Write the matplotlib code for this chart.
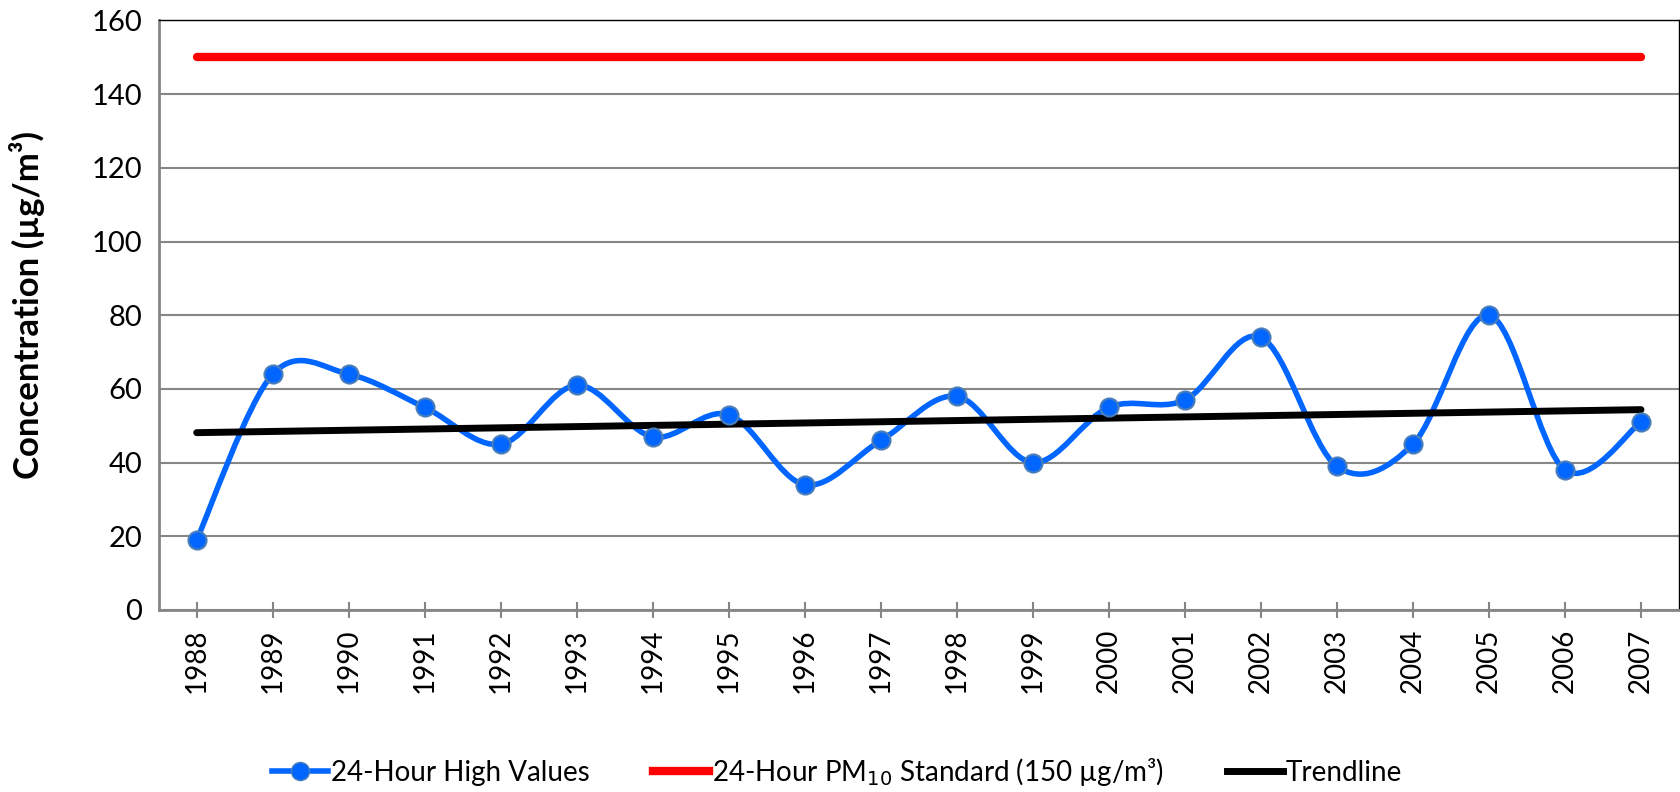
import numpy as np
import matplotlib
matplotlib.use("Agg")
import matplotlib.pyplot as plt
from matplotlib.path import Path
from matplotlib.patches import PathPatch
from matplotlib.lines import Line2D

plt.rcParams['font.family'] = ['Lato', 'DejaVu Sans']

years = [str(y) for y in range(1988, 2008)]
high_values = [19, 64, 64, 55, 45, 61, 47, 53, 34, 46, 58, 40, 55, 57, 74, 39, 45, 80, 38, 51]
standard = 150

BLUE = "#0066ff"
GRID = "#868686"

x = np.arange(len(years))
y = np.array(high_values, dtype=float)

fig = plt.figure(figsize=(16.81, 7.92), dpi=100)
ax = fig.add_axes([0.0944, 0.2298, 0.9044, 0.7444])

# smoothed line like Excel (Catmull-Rom style bezier)
verts = [(x[0], y[0])]
codes = [Path.MOVETO]
n = len(x)
for i in range(n - 1):
    p0 = (x[max(i - 1, 0)], y[max(i - 1, 0)])
    p1 = (x[i], y[i])
    p2 = (x[i + 1], y[i + 1])
    p3 = (x[min(i + 2, n - 1)], y[min(i + 2, n - 1)])
    c1 = (p1[0] + (p2[0] - p0[0]) / 6, p1[1] + (p2[1] - p0[1]) / 6)
    c2 = (p2[0] - (p3[0] - p1[0]) / 6, p2[1] - (p3[1] - p1[1]) / 6)
    verts += [c1, c2, p2]
    codes += [Path.CURVE4] * 3
ax.add_patch(PathPatch(Path(verts, codes), fill=False, edgecolor=BLUE, lw=4, zorder=3,
                       capstyle="round"))
ax.plot(x, y, linestyle="none", marker="o", ms=13, mfc=BLUE, mec="#4a7ebb", mew=1.5, zorder=4)

# standard line
ax.plot(x, [standard] * n, color="#ff0000", lw=6, solid_capstyle="round", zorder=3)

# linear trendline
slope, icpt = np.polyfit(x, y, 1)
ax.plot(x, slope * x + icpt, color="black", lw=5, solid_capstyle="round", zorder=3)

ax.set_xlim(-0.5, n - 0.5)
ax.set_ylim(0, 160)
ax.set_yticks(range(0, 161, 20))
ax.set_xticks(x)
ax.set_xticklabels(years, rotation=90, fontsize=20)
ax.tick_params(axis="y", length=0, labelsize=21, pad=12)
ax.tick_params(axis="x", direction="inout", length=11, width=1.5, color=GRID, pad=8)
ax.yaxis.grid(True, color=GRID, lw=1.5)
ax.set_axisbelow(True)

for s in ["left", "bottom"]:
    ax.spines[s].set_color(GRID)
    ax.spines[s].set_linewidth(2)
for s in ["top", "right"]:
    ax.spines[s].set_color("black")
    ax.spines[s].set_linewidth(1)

fig.text(0.016, 0.615, "Concentration (µg/m³)", rotation=90, fontsize=25,
         fontweight="bold", ha="center", va="center")

handles = [
    Line2D([], [], color=BLUE, lw=4, marker="o", ms=13, mfc=BLUE, mec="#4a7ebb"),
    Line2D([], [], color="#ff0000", lw=6),
    Line2D([], [], color="black", lw=5),
]
labels = ["24-Hour High Values", "24-Hour PM$_{10}$ Standard (150 µg/m³)", "Trendline"]
fig.legend(handles, labels, loc="center", bbox_to_anchor=(0.498, 0.025), ncol=3,
           frameon=False, fontsize=20, handlelength=2.0, handletextpad=0.1,
           columnspacing=2.3)

fig.savefig("out.png", dpi=100)
